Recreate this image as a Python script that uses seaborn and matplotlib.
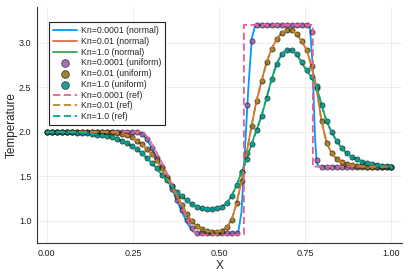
import numpy as np
import pandas as pd
import matplotlib
matplotlib.use("Agg")
import matplotlib.pyplot as plt
import seaborn as sns
from matplotlib.colors import to_rgba

# ---------------- data ----------------
# uniform-mesh samples (70 points on [0,1])
x_uniform = np.linspace(0.0, 1.0, 70)

T_uni_kn0001 = [
    2.0, 2.0, 2.0, 2.0, 2.0, 2.0, 2.0, 2.0, 2.0, 2.0,
    2.0, 2.0, 2.0, 2.0, 2.0, 2.0, 2.0, 2.0, 2.0, 1.98,
    1.92, 1.82, 1.71, 1.60, 1.48, 1.36, 1.24, 1.12, 1.01, 0.92,
    0.87, 0.86, 0.86, 0.86, 0.86, 0.86, 0.86, 0.86, 0.87, 1.55,
    2.30, 3.02, 3.20, 3.20, 3.20, 3.20, 3.20, 3.20, 3.20, 3.20,
    3.20, 3.20, 3.20, 3.12, 1.68, 1.61, 1.61, 1.61, 1.61, 1.61,
    1.61, 1.61, 1.61, 1.61, 1.61, 1.61, 1.61, 1.61, 1.61, 1.61,
]

T_uni_kn001 = [
    2.0, 2.0, 2.0, 2.0, 2.0, 2.0, 2.0, 2.0, 2.0, 2.0,
    2.0, 2.0, 2.0, 1.995, 1.99, 1.98, 1.965, 1.94, 1.90, 1.86,
    1.81, 1.75, 1.68, 1.59, 1.49, 1.39, 1.28, 1.18, 1.08, 1.00,
    0.94, 0.91, 0.89, 0.88, 0.88, 0.89, 0.93, 1.01, 1.20, 1.45,
    1.76, 2.07, 2.35, 2.57, 2.78, 2.93, 3.04, 3.11, 3.14, 3.14,
    3.10, 3.02, 2.92, 2.74, 2.49, 2.12, 1.88, 1.76, 1.70, 1.66,
    1.64, 1.63, 1.62, 1.615, 1.61, 1.61, 1.61, 1.61, 1.61, 1.61,
]

T_uni_kn1 = [
    2.0, 2.0, 2.0, 2.0, 2.0, 1.995, 1.99, 1.99, 1.985, 1.98,
    1.97, 1.96, 1.95, 1.94, 1.92, 1.90, 1.87, 1.84, 1.81, 1.76,
    1.71, 1.65, 1.59, 1.52, 1.46, 1.39, 1.33, 1.28, 1.23, 1.19,
    1.16, 1.14, 1.13, 1.13, 1.14, 1.16, 1.20, 1.28, 1.40, 1.55,
    1.70, 1.86, 2.02, 2.18, 2.38, 2.59, 2.76, 2.87, 2.92, 2.92,
    2.87, 2.78, 2.69, 2.61, 2.51, 2.30, 2.12, 2.00, 1.90, 1.82,
    1.76, 1.72, 1.69, 1.66, 1.645, 1.635, 1.625, 1.62, 1.615, 1.61,
]

# "normal" mesh solution for Kn=0.0001
x_norm_kn0001 = [0.0, 0.27, 0.29, 0.31, 0.33, 0.35, 0.37, 0.39, 0.41, 0.425,
                 0.44, 0.555, 0.565, 0.575, 0.585, 0.595, 0.605, 0.763, 0.771,
                 0.778, 0.783, 0.79, 1.0]
T_norm_kn0001 = [2.0, 2.0, 1.92, 1.78, 1.63, 1.47, 1.30, 1.12, 0.96, 0.88,
                 0.86, 0.86, 1.10, 1.80, 2.50, 3.05, 3.20, 3.20, 2.77,
                 1.95, 1.65, 1.61, 1.61]

# reference solution for Kn=0.0001
x_ref_kn0001 = [0.0, 0.28, 0.30, 0.32, 0.34, 0.36, 0.38, 0.40, 0.42, 0.435,
                0.572, 0.572, 0.772, 0.772, 1.0]
T_ref_kn0001 = [2.0, 2.0, 1.90, 1.76, 1.61, 1.44, 1.27, 1.09, 0.93, 0.845,
                0.845, 3.20, 3.20, 1.61, 1.61]

x_ticks = [0.00, 0.25, 0.50, 0.75, 1.00]
x_tick_labels = ["0.00", "0.25", "0.50", "0.75", "1.00"]
y_ticks = [1.0, 1.5, 2.0, 2.5, 3.0]
y_tick_labels = ["1.0", "1.5", "2.0", "2.5", "3.0"]

# ---------------- style ----------------
sns.set_theme(style="white")
plt.rcParams["font.family"] = ["Liberation Sans", "DejaVu Sans"]

c_blue, c_orange, c_green = "#009AFA", "#E36F47", "#3EA44E"
c_purple, c_olive, c_teal = "#C371D2", "#AC8E18", "#00AAAE"
c_pink, c_brown, c_tealg = "#ED5E93", "#C68225", "#00A98D"

fig = plt.figure(figsize=(4.09, 2.73), dpi=100)
ax = fig.add_axes([0.0905, 0.110, 0.892, 0.864])

lw = 1.3

def darker(c, f=0.78, a=0.85):
    r, g, b, _ = to_rgba(c)
    return (r * f, g * f, b * f, a)

def line(x, y, color, label, dashed=False):
    df = pd.DataFrame({"x": x, "y": y})
    kw = dict(color=color, linewidth=lw, label=label)
    if dashed:
        kw["dashes"] = (4, 2)
    sns.lineplot(data=df, x="x", y="y", ax=ax, sort=False, estimator=None, **kw)

def scat(x, y, color, label):
    df = pd.DataFrame({"x": x, "y": y})
    sns.scatterplot(data=df, x="x", y="y", ax=ax, s=14,
                    color=darker(color), edgecolor=(0, 0, 0, 0.6),
                    linewidth=0.6, label=label, zorder=3)

line(x_norm_kn0001, T_norm_kn0001, c_blue, "Kn=0.0001 (normal)")
line(x_uniform, T_uni_kn001, c_orange, "Kn=0.01 (normal)")
line(x_uniform, T_uni_kn1, c_green, "Kn=1.0 (normal)")
scat(x_uniform, T_uni_kn0001, c_purple, "Kn=0.0001 (uniform)")
scat(x_uniform, T_uni_kn001, c_olive, "Kn=0.01 (uniform)")
scat(x_uniform, T_uni_kn1, c_teal, "Kn=1.0 (uniform)")
for artist_args in [(x_ref_kn0001, T_ref_kn0001, c_pink, "Kn=0.0001 (ref)"),
                    (x_uniform, T_uni_kn001, c_brown, "Kn=0.01 (ref)"),
                    (x_uniform, T_uni_kn1, c_tealg, "Kn=1.0 (ref)")]:
    line(*artist_args, dashed=True)
for l in ax.lines[3:]:
    l.set_zorder(4)

ax.set_xlim(-0.028, 1.03)
ax.set_ylim(0.753, 3.40)
ax.set_xticks(x_ticks)
ax.set_xticklabels(x_tick_labels)
ax.set_yticks(y_ticks)
ax.set_yticklabels(y_tick_labels)
ax.tick_params(axis="both", labelsize=6.5, length=2.5, width=0.6, color="#333333",
               direction="out", pad=1.5, labelcolor="#222222")
ax.tick_params(axis="x", pad=2)
ax.grid(True, color="#e8e8e8", linewidth=0.5)
for s in ["top", "right"]:
    ax.spines[s].set_visible(False)
for s in ["left", "bottom"]:
    ax.spines[s].set_color("#333333")
    ax.spines[s].set_linewidth(0.8)
ax.set_xlabel("X", fontsize=8.5, labelpad=1)
ax.set_ylabel("Temperature", fontsize=8.5, labelpad=1)

leg = ax.legend(loc="upper left", bbox_to_anchor=(0.033, 0.936), borderaxespad=0,
                fontsize=6.3, frameon=True, fancybox=False, framealpha=1,
                edgecolor="#222222", labelspacing=0.2, handlelength=2.7,
                handletextpad=0.5, borderpad=0.45, markerscale=1.5)
leg.get_frame().set_linewidth(0.8)

fig.savefig("out.png", dpi=100)
